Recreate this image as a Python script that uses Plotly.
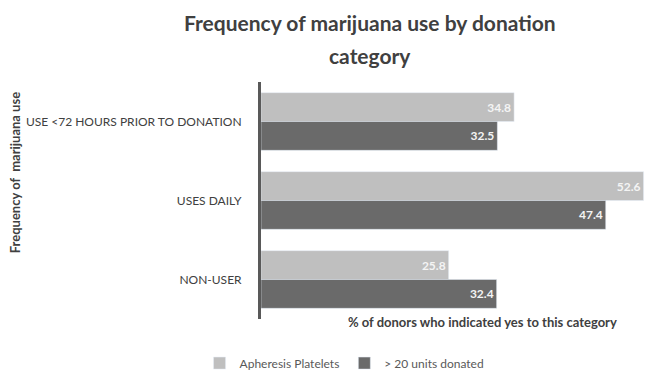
import plotly.graph_objects as go

categories = ["USE <72 HOURS PRIOR TO DONATION", "USES DAILY", "NON-USER"]
apheresis = [34.8, 52.6, 25.8]
units20 = [32.5, 47.4, 32.4]
series_names = ["Apheresis Platelets", "> 20 units donated"]

FONT = "Lato"
fig = go.Figure()
fig.add_trace(go.Bar(
    y=categories, x=apheresis, orientation="h", name=series_names[0],
    marker=dict(color="#bfbfbf"),
    text=[f"{v:.1f}" for v in apheresis], textposition="inside", insidetextanchor="end",
    textfont=dict(family=FONT, size=12, color="#f4f4f4", weight="bold"),
))
fig.add_trace(go.Bar(
    y=categories, x=units20, orientation="h", name=series_names[1],
    marker=dict(color="#6a6a6a"),
    text=[f"{v:.1f}" for v in units20], textposition="inside", insidetextanchor="end",
    textfont=dict(family=FONT, size=12, color="#f4f4f4", weight="bold"),
))

fig.update_layout(
    width=645, height=370,
    margin=dict(l=261, r=0, t=82, b=51, autoexpand=False),
    paper_bgcolor="white", plot_bgcolor="white",
    barmode="group", bargap=0.27, bargroupgap=0.0,
    font=dict(family=FONT, color="#404040"),
    showlegend=True,
    legend=dict(orientation="h", x=-0.16, xanchor="left", y=-0.186, yanchor="middle",
                font=dict(family=FONT, size=12, color="#595959"),
                itemwidth=30, tracegroupgap=0),
    xaxis=dict(range=[0, 52.8], visible=False, showgrid=False, zeroline=False),
    yaxis=dict(autorange="reversed", showline=True, linecolor="#595959", linewidth=3,
               ticks="", ticklabelstandoff=14,
               tickfont=dict(family=FONT, size=12, color="#404040"), showgrid=False),
    annotations=[
        dict(text="<b>Frequency of marijuana use by donation</b>", xref="paper", yref="paper",
             x=0.284, y=1.253, xanchor="center", yanchor="middle", showarrow=False,
             font=dict(family=FONT, size=21, color="#404040")),
        dict(text="<b>category</b>", xref="paper", yref="paper",
             x=0.284, y=1.11, xanchor="center", yanchor="middle", showarrow=False,
             font=dict(family=FONT, size=21, color="#404040")),
        dict(text="<b>Frequency of  marijuana use</b>", xref="paper", yref="paper",
             x=-0.64, y=0.616, xanchor="center", yanchor="middle", showarrow=False,
             textangle=-90, font=dict(family=FONT, size=13, color="#404040")),
        dict(text="<b>% of donors who indicated yes to this category</b>", xref="paper", yref="paper",
             x=0.576, y=-0.012, xanchor="center", yanchor="middle", showarrow=False,
             font=dict(family=FONT, size=13, color="#404040")),
    ],
)

fig.write_html("out.html")
